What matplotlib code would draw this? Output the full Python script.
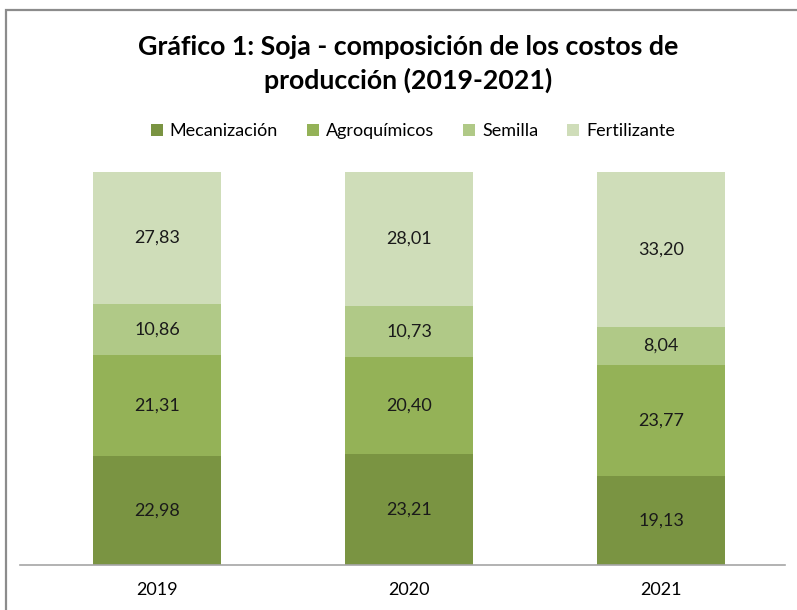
import matplotlib
matplotlib.use("Agg")
import matplotlib.pyplot as plt
from matplotlib.patches import Rectangle
import numpy as np

years = ["2019", "2020", "2021"]
categories = ["Mecanización", "Agroquímicos", "Semilla", "Fertilizante"]
mecanizacion = [22.98, 23.21, 19.13]
agroquimicos = [21.31, 20.40, 23.77]
semilla = [10.86, 10.73, 8.04]
fertilizante = [27.83, 28.01, 33.20]

colors = ["#7A9442", "#94B257", "#B0C987", "#CFDDB9"]

plt.rcParams["font.family"] = ["Lato", "DejaVu Sans"]

fig = plt.figure(figsize=(7.97, 6.10), dpi=100)
ax = fig.add_axes([20 / 797, 1 - 565 / 610, 765 / 797, (565 - 172) / 610])

# frame around the chart (cropped on right/bottom)
fig.patches.append(Rectangle((6 / 797, -0.1), 1.2, 1 - 10 / 610 + 0.1,
                             transform=fig.transFigure, fill=False,
                             edgecolor="#8C8C8C", linewidth=1.6))

series = [mecanizacion, agroquimicos, semilla, fertilizante]
totals = np.sum(series, axis=0)
x = np.arange(len(years))
bottom = np.zeros(len(years))
for vals, col, name in zip(series, colors, categories):
    share = np.array(vals) / totals
    ax.bar(x, share, 0.51, bottom=bottom, color=col, label=name)
    for xi, b, s, v in zip(x, bottom, share, vals):
        ax.text(xi, b + s / 2, f"{v:.2f}".replace(".", ","), ha="center",
                va="center", fontsize=13, color="#1a1a1a")
    bottom += share

ax.set_xlim(-0.544, 2.492)
ax.set_ylim(0, 1)
ax.set_yticks([])
ax.set_xticks(x)
ax.set_xticklabels(years, fontsize=13)
ax.tick_params(axis="x", length=0, pad=12)
for s in ["top", "right", "left"]:
    ax.spines[s].set_visible(False)
ax.spines["bottom"].set_color("#A6A6A6")
ax.spines["bottom"].set_linewidth(1.2)

fig.text(0.512, 1 - 64 / 610, "Gráfico 1: Soja - composición de los costos de\nproducción (2019-2021)",
         ha="center", va="center", fontsize=19.3, fontweight="bold", linespacing=1.45)

fig.legend(loc="center", bbox_to_anchor=(0.518, 1 - 131 / 610), ncol=4, frameon=False,
           fontsize=13, handlelength=0.65, handleheight=0.65, handletextpad=0.4,
           columnspacing=1.6)

fig.savefig("out.png", dpi=100)
